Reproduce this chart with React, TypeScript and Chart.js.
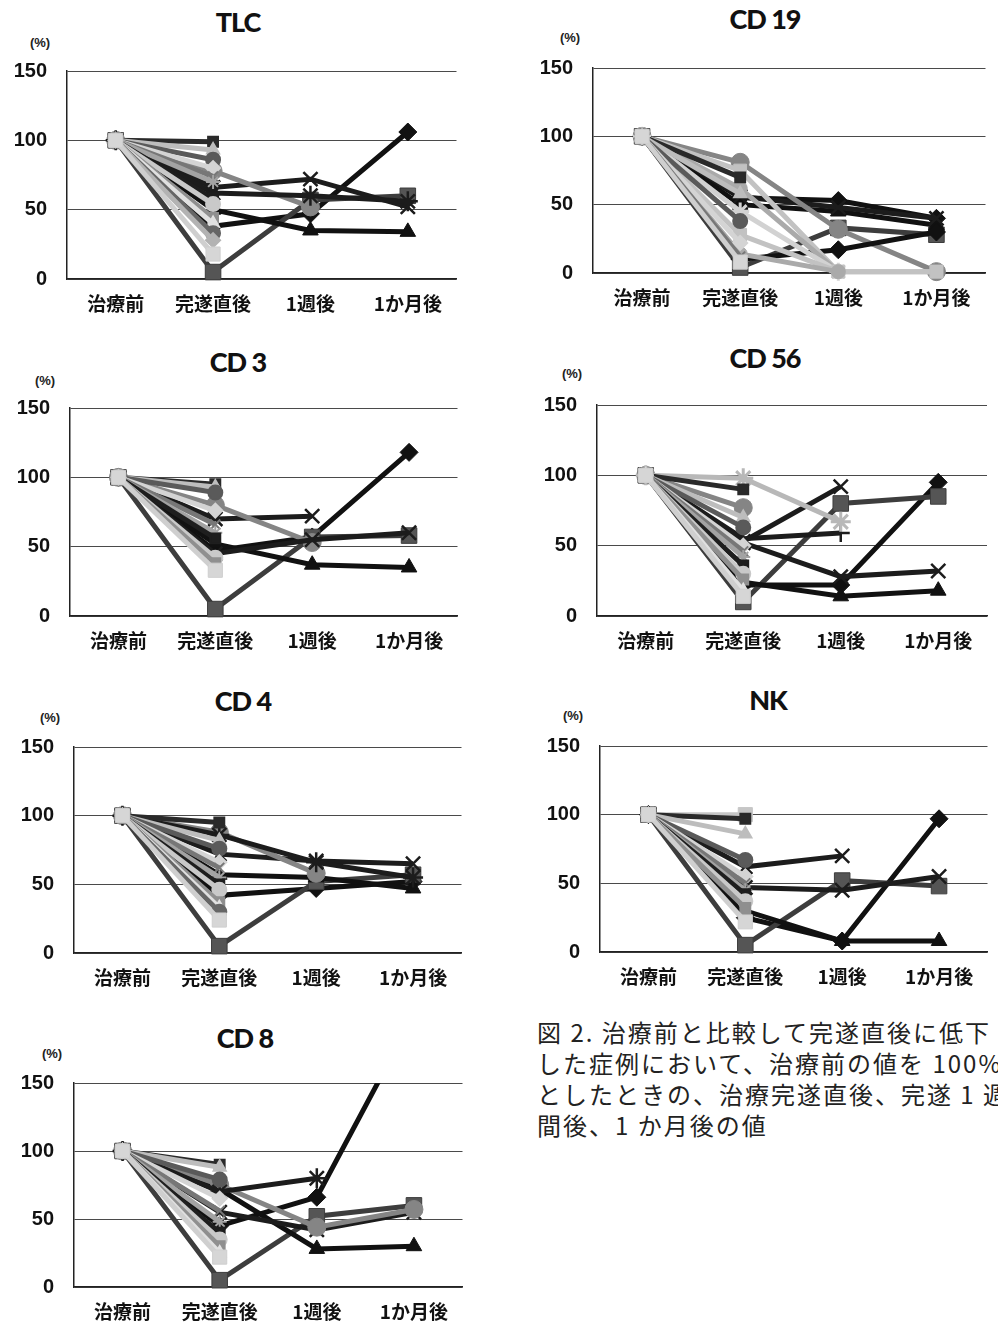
import React, { useEffect, useRef } from 'react';
import { Chart, registerables } from 'chart.js';

Chart.register(...registerables);

// ---------- data ----------
const CATEGORIES = ['治療前', '完遂直後', '1週後', '1か月後'];
const Y_MIN = 0;
const Y_MAX = 150;
const Y_STEP = 50;

// TLC
const TLC_FOLLOW = [
  [100, 38, 47, 106],
  [100, 5, 57, 60],
  [100, 50, 35, 34],
  [100, 66, 72, 52],
  [100, 78, 52, null],
  [100, 62, 60, 56],
];
const TLC_FOLLOW_KEYS = ['diamond', 'square', 'triangle', 'x', 'circle', 'star'];
const TLC_EARLY = [
  [100, 99, null, null],
  [100, 93, null, null],
  [100, 86, null, null],
  [100, 80, null, null],
  [100, 74, null, null],
  [100, 70, null, null],
  [100, 58, null, null],
  [100, 54, null, null],
  [100, 44, null, null],
  [100, 40, null, null],
  [100, 33, null, null],
  [100, 28, null, null],
  [100, 18, null, null],
];

// CD19
const CD19_FOLLOW = [
  [100, 55, 53, 40],
  [100, 4, 33, 28],
  [100, 50, 45, 35],
  [100, 56, 48, 40],
  [100, 81, 32, 1],
  [100, 10, 17, 30],
  [100, 75, 1, 1],
  [100, 62, 1, null],
  [100, 45, 1, null],
  [100, 28, 1, 1],
  [100, 14, 1, null],
];
const CD19_FOLLOW_KEYS = ['diamond', 'square', 'triangle', 'x', 'circle', 'diamond', 'light1', 'light2', 'light3', 'light1', 'light2'];
const CD19_EARLY = [
  [100, 70, null, null],
  [100, 58, null, null],
  [100, 38, null, null],
  [100, 22, null, null],
  [100, 12, null, null],
  [100, 8, null, null],
];

// CD3
const CD3_FOLLOW = [
  [100, 47, 57, 118],
  [100, 5, 57, 58],
  [100, 52, 37, 35],
  [100, 70, 72, null],
  [100, 80, 53, null],
  [100, 45, 55, 60],
];
const CD3_FOLLOW_KEYS = ['diamond', 'square', 'triangle', 'x', 'circle', 'x'];
const CD3_EARLY = [
  [100, 95, null, null],
  [100, 93, null, null],
  [100, 89, null, null],
  [100, 76, null, null],
  [100, 66, null, null],
  [100, 60, null, null],
  [100, 56, null, null],
  [100, 42, null, null],
  [100, 38, null, null],
  [100, 33, null, null],
];

// CD56
const CD56_FOLLOW = [
  [100, 22, 22, 95],
  [100, 10, 80, 85],
  [100, 24, 14, 18],
  [100, 52, 28, 32],
  [100, 53, 92, null],
  [100, 55, 59, null],
  [100, 77, null, null],
  [100, 98, 67, null],
];
const CD56_FOLLOW_KEYS = ['diamond', 'square', 'triangle', 'x', 'x', 'plus', 'circle', 'lightStar'];
const CD56_EARLY = [
  [100, 90, null, null],
  [100, 70, null, null],
  [100, 63, null, null],
  [100, 50, null, null],
  [100, 46, null, null],
  [100, 42, null, null],
  [100, 36, null, null],
  [100, 30, null, null],
  [100, 26, null, null],
  [100, 18, null, null],
  [100, 14, null, null],
];

// CD4
const CD4_FOLLOW = [
  [100, 42, 47, 52],
  [100, 5, 52, 57],
  [100, 57, 55, 47],
  [100, 72, 67, 65],
  [100, 88, 58, null],
  [100, 86, 66, 55],
];
const CD4_FOLLOW_KEYS = ['diamond', 'square', 'triangle', 'x', 'circle', 'star'];
const CD4_EARLY = [
  [100, 95, null, null],
  [100, 82, null, null],
  [100, 76, null, null],
  [100, 66, null, null],
  [100, 62, null, null],
  [100, 55, null, null],
  [100, 50, null, null],
  [100, 46, null, null],
  [100, 37, null, null],
  [100, 33, null, null],
  [100, 30, null, null],
  [100, 24, null, null],
];

// NK
const NK_FOLLOW = [
  [100, 25, 8, 97],
  [100, 5, 52, 48],
  [100, 30, 8, 8],
  [100, 47, 45, 55],
  [100, 62, 70, null],
  [100, 100, null, null],
];
const NK_FOLLOW_KEYS = ['diamond', 'square', 'triangle', 'x', 'x', 'lightSquare'];
const NK_EARLY = [
  [100, 97, null, null],
  [100, 86, null, null],
  [100, 67, null, null],
  [100, 55, null, null],
  [100, 50, null, null],
  [100, 45, null, null],
  [100, 42, null, null],
  [100, 37, null, null],
  [100, 32, null, null],
  [100, 22, null, null],
];

// CD8
const CD8_FOLLOW = [
  [100, 45, 66, 200],
  [100, 5, 52, 60],
  [100, 72, 28, 30],
  [100, 55, 42, 55],
  [100, 75, 44, 57],
  [100, 70, 80, null],
];
const CD8_FOLLOW_KEYS = ['diamond', 'square', 'triangle', 'x', 'circle', 'star'];
const CD8_EARLY = [
  [100, 90, null, null],
  [100, 88, null, null],
  [100, 79, null, null],
  [100, 65, null, null],
  [100, 56, null, null],
  [100, 48, null, null],
  [100, 40, null, null],
  [100, 35, null, null],
  [100, 30, null, null],
  [100, 25, null, null],
  [100, 22, null, null],
];

const CAPTION_LINES = [
  '図 2. 治療前と比較して完遂直後に低下',
  'した症例において、治療前の値を 100%',
  'としたときの、治療完遂直後、完遂 1 週',
  '間後、1 か月後の値',
];

// ---------- styles ----------
type Sty = { color: string; fill: string; marker: any; r: number; pbw: number };
const STYLE: Record<string, Sty> = {
  diamond: { color: '#111', fill: '#111', marker: 'rectRot', r: 9, pbw: 1 },
  square: { color: '#3d3d3d', fill: '#555', marker: 'rect', r: 11, pbw: 1 },
  triangle: { color: '#111', fill: '#111', marker: 'triangle', r: 9, pbw: 1 },
  x: { color: '#1c1c1c', fill: '#1c1c1c', marker: 'crossRot', r: 10, pbw: 2.5 },
  star: { color: '#1c1c1c', fill: '#1c1c1c', marker: 'star', r: 10, pbw: 2.5 },
  plus: { color: '#1c1c1c', fill: '#1c1c1c', marker: 'cross', r: 9, pbw: 2.5 },
  circle: { color: '#858585', fill: '#858585', marker: 'circle', r: 9, pbw: 1 },
  lightStar: { color: '#b8b8b8', fill: '#b8b8b8', marker: 'star', r: 10, pbw: 3 },
  lightSquare: { color: '#c6c6c6', fill: '#c6c6c6', marker: 'rect', r: 10, pbw: 1 },
  light1: { color: '#c2c2c2', fill: '#c2c2c2', marker: 'rect', r: 9, pbw: 1 },
  light2: { color: '#aaaaaa', fill: '#aaaaaa', marker: 'circle', r: 7, pbw: 1 },
  light3: { color: '#d2d2d2', fill: '#d2d2d2', marker: 'star', r: 9, pbw: 3 },
};
const EARLY_COLORS = ['#2a2a2a', '#bdbdbd', '#5a5a5a', '#d4d4d4', '#777777', '#a3a3a3', '#1e1e1e', '#c9c9c9', '#8f8f8f', '#e0e0e0', '#666666', '#b3b3b3', '#d8d8d8'];
const EARLY_MARKERS = ['rect', 'triangle', 'circle', 'rectRot', 'crossRot', 'star', 'rect', 'circle'];
const TOP_LAYER: Sty = { color: '#cfcfcf', fill: '#d6d6d6', marker: 'rect', r: 10, pbw: 1 };

const CJK = "'Noto Sans CJK JP', sans-serif";
const NUM = "'Liberation Sans', Arial, sans-serif";
const TITLE_FONT = "Lato, 'Liberation Sans', sans-serif";

const Y_AXIS_W = 60;
const X_AXIS_H = 40;
const PAD_T = 14;
const PAD_R = 2;

type Panel = {
  title: string;
  follow: (number | null)[][];
  keys: string[];
  early: (number | null)[][];
  box: { left: number; right: number; top: number; bottom: number };
  titleAt: [number, number];
  pctAt: [number, number];
};

const PANELS: Panel[] = [
  { title: 'TLC', follow: TLC_FOLLOW, keys: TLC_FOLLOW_KEYS, early: TLC_EARLY, box: { left: 67, right: 467, top: 71, bottom: 279 }, titleAt: [238, 21], pctAt: [40, 42] },
  { title: 'CD 19', follow: CD19_FOLLOW, keys: CD19_FOLLOW_KEYS, early: CD19_EARLY, box: { left: 593, right: 996, top: 68, bottom: 273 }, titleAt: [765, 18], pctAt: [570, 37] },
  { title: 'CD 3', follow: CD3_FOLLOW, keys: CD3_FOLLOW_KEYS, early: CD3_EARLY, box: { left: 70, right: 468, top: 408, bottom: 616 }, titleAt: [238, 361], pctAt: [45, 380] },
  { title: 'CD 56', follow: CD56_FOLLOW, keys: CD56_FOLLOW_KEYS, early: CD56_EARLY, box: { left: 597, right: 998, top: 405, bottom: 616 }, titleAt: [765, 357], pctAt: [572, 373] },
  { title: 'CD 4', follow: CD4_FOLLOW, keys: CD4_FOLLOW_KEYS, early: CD4_EARLY, box: { left: 74, right: 472, top: 747, bottom: 953 }, titleAt: [243, 700], pctAt: [50, 717] },
  { title: 'NK', follow: NK_FOLLOW, keys: NK_FOLLOW_KEYS, early: NK_EARLY, box: { left: 600, right: 998, top: 746, bottom: 952 }, titleAt: [768, 699], pctAt: [573, 715] },
  { title: 'CD 8', follow: CD8_FOLLOW, keys: CD8_FOLLOW_KEYS, early: CD8_EARLY, box: { left: 74, right: 473, top: 1083, bottom: 1287 }, titleAt: [245, 1037], pctAt: [52, 1053] },
];

function makeDataset(row: (number | null)[], s: Sty, lineWidth: number) {
  return {
    data: row,
    borderColor: s.color,
    backgroundColor: s.fill,
    borderWidth: lineWidth,
    pointStyle: s.marker,
    pointRadius: s.r,
    pointBackgroundColor: s.fill,
    pointBorderColor: s.color,
    pointBorderWidth: s.pbw,
    spanGaps: false,
    tension: 0,
    clip: { left: 14, right: 14, top: 0, bottom: 14 },
  };
}

function ChartPanel({ p }: { p: Panel }) {
  const ref = useRef<HTMLCanvasElement | null>(null);
  const w = p.box.right - p.box.left + Y_AXIS_W + PAD_R;
  const h = p.box.bottom - p.box.top + PAD_T + X_AXIS_H;

  useEffect(() => {
    if (!ref.current) return;
    const layers: any[] = [];
    p.follow.forEach((row, i) => {
      layers.push(makeDataset(row, STYLE[p.keys[i]], 5));
    });
    p.early.forEach((row, i) => {
      const c = EARLY_COLORS[i % EARLY_COLORS.length];
      const s: Sty = i === p.early.length - 1
        ? TOP_LAYER
        : { color: c, fill: c, marker: EARLY_MARKERS[i % EARLY_MARKERS.length], r: 7, pbw: 2 };
      layers.push(makeDataset(row, s, 5));
    });
    // Chart.js paints dataset 0 on top: put the last layer first
    const datasets = layers.reverse();

    const chart = new Chart(ref.current, {
      type: 'line',
      data: { labels: CATEGORIES, datasets },
      options: {
        animation: false,
        responsive: false,
        events: [],
        layout: { padding: { top: PAD_T, right: PAD_R, left: 0, bottom: 0 } },
        plugins: { legend: { display: false }, tooltip: { enabled: false }, title: { display: false } },
        scales: {
          x: {
            type: 'category',
            offset: true,
            grid: { display: false, drawTicks: false },
            border: { display: true, color: '#222', width: 1.5 },
            ticks: { color: '#111', font: { family: CJK, size: 19, weight: 'bold' }, padding: 13, maxRotation: 0, autoSkip: false },
            afterFit: (s: any) => { s.height = X_AXIS_H; s.paddingLeft = 0; s.paddingRight = 0; },
          },
          y: {
            min: Y_MIN,
            max: Y_MAX,
            ticks: { stepSize: Y_STEP, color: '#111', font: { family: NUM, size: 20, weight: 'bold' }, padding: 20 },
            grid: { color: '#4a4a4a', lineWidth: 1, drawTicks: false },
            border: { display: true, color: '#222', width: 1.5 },
            afterFit: (s: any) => { s.width = Y_AXIS_W; s.paddingTop = 0; s.paddingBottom = 0; },
          },
        },
      } as any,
    });
    return () => chart.destroy();
  }, []);

  return (
    <>
      <canvas
        ref={ref}
        width={w}
        height={h}
        style={{ position: 'absolute', left: p.box.left - Y_AXIS_W, top: p.box.top - PAD_T, width: w, height: h }}
      />
      <div
        style={{
          position: 'absolute', left: p.titleAt[0], top: p.titleAt[1], transform: 'translate(-50%, -50%)',
          font: `900 27px ${TITLE_FONT}`, letterSpacing: '-1px', color: '#111', whiteSpace: 'nowrap',
        }}
      >
        {p.title}
      </div>
      <div
        style={{
          position: 'absolute', left: p.pctAt[0], top: p.pctAt[1], transform: 'translate(-50%, -50%)',
          font: `bold 13px ${NUM}`, color: '#222', whiteSpace: 'nowrap',
        }}
      >
        (%)
      </div>
    </>
  );
}

export default function App() {
  return (
    <div style={{ position: 'fixed', left: 0, top: 0, width: 998, height: 1329, overflow: 'hidden', background: '#fff' }}>
      {PANELS.map((p) => (
        <ChartPanel key={p.title} p={p} />
      ))}
      <div
        style={{
          position: 'absolute', left: 537, top: 1016, lineHeight: '31px', fontSize: 24, letterSpacing: '2px',
          fontFamily: "'Noto Sans CJK JP', sans-serif", color: '#222', whiteSpace: 'nowrap',
        }}
      >
        {CAPTION_LINES.map((l, i) => (
          <div key={i}>{l}</div>
        ))}
      </div>
    </div>
  );
}
